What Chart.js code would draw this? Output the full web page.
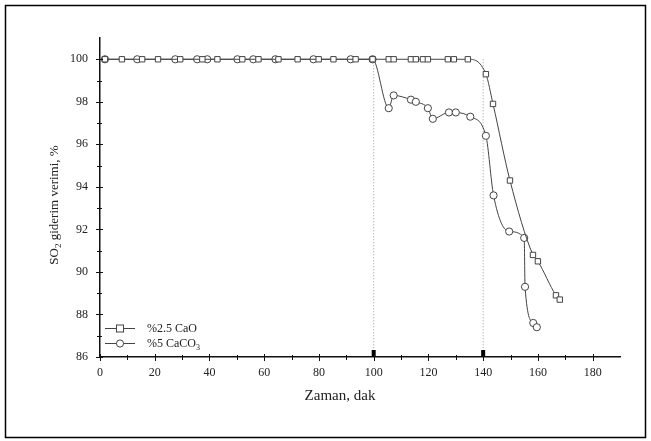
<!DOCTYPE html>
<html>
<head>
<meta charset="utf-8">
<script src="https://cdn.jsdelivr.net/npm/chart.js@4/dist/chart.umd.min.js"></script>
<style>
  html, body { margin: 0; padding: 0; background: #fff; }
  #wrap { position: relative; width: 651px; height: 441px; }
</style>
</head>
<body>
<div id="wrap"><canvas id="c" width="651" height="441"></canvas></div>
<script>
// SO2 removal efficiency (%) against time (min)
const caoTime  = [1.8, 8, 15.4, 21.2, 29.3, 37.4, 42.9, 52, 57.9, 65.2, 72.2, 79.9, 85.3, 93.4, 99.6,
                  105.5, 107.3, 113.6, 115.4, 118, 119.8, 127.1, 129.3, 134.4,
                  141, 143.6, 149.8, 158.2, 160, 166.6, 168];
const caoValue = [100, 100, 100, 100, 100, 100, 100, 100, 100, 100, 100, 100, 100, 100, 100,
                  100, 100, 100, 100, 100, 100, 100, 100, 100,
                  99.3, 97.9, 94.3, 90.8, 90.5, 88.9, 88.7];

const caco3Time  = [1.8, 13.6, 27.5, 35.5, 39.2, 50.2, 56, 64.1, 78, 91.6, 99.6,
                    105.5, 107.3, 113.6, 115.4, 119.8, 121.6, 127.5, 130, 135.3,
                    141, 143.8, 149.5, 155, 155.3, 158.3, 159.6];
const caco3Value = [100, 100, 100, 100, 100, 100, 100, 100, 100, 100, 100,
                    97.7, 98.3, 98.1, 98.0, 97.7, 97.2, 97.5, 97.5, 97.3,
                    96.4, 93.6, 91.9, 91.6, 89.3, 87.6, 87.4];

const xTicks = [0, 20, 40, 60, 80, 100, 120, 140, 160, 180];
const yTicks = [86, 88, 90, 92, 94, 96, 98, 100];
const markerTimes = [100, 140];
const seriesLabels = ['%2.5 CaO', '%5 CaCO3'];
const xTitle = 'Zaman, dak';
const yTitle = ['SO', '2', ' giderim verimi, %'];

const SERIF = '"Liberation Serif", "Times New Roman", serif';
const INK = '#222';
const LINE = '#444';

function pts(t, v) { return t.map((x, i) => ({ x, y: v[i] })); }

const datasets = [
  {
    label: seriesLabels[0], data: pts(caoTime, caoValue),
    borderColor: LINE, borderWidth: 1, pointStyle: 'rect', pointRadius: 3.8,
    pointBorderColor: LINE, pointBorderWidth: 1, pointBackgroundColor: '#fff',
    cubicInterpolationMode: 'monotone'
  },
  {
    label: seriesLabels[1], data: pts(caco3Time, caco3Value),
    borderColor: LINE, borderWidth: 1, pointStyle: 'circle', pointRadius: 3.6,
    pointBorderColor: LINE, pointBorderWidth: 1, pointBackgroundColor: '#fff',
    cubicInterpolationMode: 'monotone'
  }
];
// dotted drop lines at the reaction change times
markerTimes.forEach(t => {
  datasets.push({
    label: 't' + t,
    data: [{ x: t, y: yTicks[yTicks.length - 1] }, { x: t, y: yTicks[0] }],
    borderColor: '#999', borderWidth: 1, borderDash: [1, 2],
    pointRadius: 0,
    clip: false
  });
});

const decor = {
  id: 'decor',
  beforeDraw(chart) {
    const ctx = chart.ctx;
    ctx.save();
    ctx.fillStyle = '#fff';
    ctx.fillRect(0, 0, chart.width, chart.height);
    ctx.strokeStyle = '#000';
    ctx.lineWidth = 1.5;
    ctx.strokeRect(5.5, 5.5, 640, 432);
    ctx.restore();
  },
  afterDraw(chart) {
    const ctx = chart.ctx;
    const xs = chart.scales.x, ys = chart.scales.y;
    const area = chart.chartArea;
    ctx.save();
    // small filled flags on the time axis at the change times
    ctx.fillStyle = '#000';
    markerTimes.forEach(t => {
      const px = xs.getPixelForValue(t);
      ctx.fillRect(px - 2, area.bottom - 7, 4, 7);
    });

    ctx.strokeStyle = '#111';
    ctx.lineWidth = 1;
    // x ticks: majors and minor midpoints
    for (let i = 0; i < xTicks.length; i++) {
      const px = Math.round(xs.getPixelForValue(xTicks[i])) + 0.5;
      ctx.beginPath(); ctx.moveTo(px, area.bottom - 3); ctx.lineTo(px, area.bottom + 4); ctx.stroke();
      const mid = xTicks[i] + (xTicks[1] - xTicks[0]) / 2;
      if (mid < xs.max) {
        const pm = Math.round(xs.getPixelForValue(mid)) + 0.5;
        ctx.beginPath(); ctx.moveTo(pm, area.bottom - 2); ctx.lineTo(pm, area.bottom + 3); ctx.stroke();
      }
    }
    // y ticks
    for (let i = 0; i < yTicks.length; i++) {
      const py = Math.round(ys.getPixelForValue(yTicks[i])) + 0.5;
      ctx.beginPath(); ctx.moveTo(area.left - 4, py); ctx.lineTo(area.left + 3, py); ctx.stroke();
      const mid = yTicks[i] + (yTicks[1] - yTicks[0]) / 2;
      if (mid < ys.max) {
        const pm = Math.round(ys.getPixelForValue(mid)) + 0.5;
        ctx.beginPath(); ctx.moveTo(area.left - 3, pm); ctx.lineTo(area.left + 2, pm); ctx.stroke();
      }
    }

    ctx.fillStyle = INK;
    // x axis title
    ctx.font = '15px ' + SERIF;
    ctx.textAlign = 'center';
    ctx.textBaseline = 'middle';
    ctx.fillText(xTitle, 340, 396);

    // y axis title with subscript
    ctx.save();
    ctx.translate(55, 205);
    ctx.rotate(-Math.PI / 2);
    const big = '13px ' + SERIF, small = '9px ' + SERIF;
    ctx.font = big; const w0 = ctx.measureText(yTitle[0]).width;
    ctx.font = small; const w1 = ctx.measureText(yTitle[1]).width;
    ctx.font = big; const w2 = ctx.measureText(yTitle[2]).width;
    let x0 = -(w0 + w1 + w2) / 2;
    ctx.textAlign = 'left';
    ctx.textBaseline = 'middle';
    ctx.font = big; ctx.fillText(yTitle[0], x0, 0);
    ctx.font = small; ctx.fillText(yTitle[1], x0 + w0, 4);
    ctx.font = big; ctx.fillText(yTitle[2], x0 + w0 + w1, 0);
    ctx.restore();

    // legend
    const rows = [
      { y: 328, style: 'rect', text: [seriesLabels[0]] },
      { y: 343, style: 'circle', text: [seriesLabels[1].slice(0, -1), seriesLabels[1].slice(-1)] }
    ];
    rows.forEach(r => {
      ctx.strokeStyle = LINE;
      ctx.lineWidth = 1;
      ctx.beginPath(); ctx.moveTo(105, r.y + 0.5); ctx.lineTo(135, r.y + 0.5); ctx.stroke();
      ctx.fillStyle = '#fff';
      if (r.style === 'rect') {
        ctx.fillRect(116.5, r.y - 3, 7, 7); ctx.strokeRect(116.5, r.y - 3, 7, 7);
      } else {
        ctx.beginPath(); ctx.arc(120, r.y + 0.5, 3.6, 0, Math.PI * 2); ctx.fill(); ctx.stroke();
      }
      ctx.fillStyle = INK;
      ctx.textAlign = 'left';
      ctx.textBaseline = 'middle';
      ctx.font = '12px ' + SERIF;
      ctx.fillText(r.text[0], 147, r.y + 1);
      if (r.text[1]) {
        const w = ctx.measureText(r.text[0]).width;
        ctx.font = '8px ' + SERIF;
        ctx.fillText(r.text[1], 147 + w, r.y + 5);
      }
    });
    ctx.restore();
  }
};

new Chart(document.getElementById('c'), {
  type: 'line',
  data: { datasets },
  plugins: [decor],
  options: {
    responsive: false,
    animation: false,
    events: [],
    layout: { autoPadding: false, padding: { top: 38, right: 31, left: 0, bottom: 0 } },
    plugins: { legend: { display: false }, tooltip: { enabled: false } },
    scales: {
      x: {
        type: 'linear', min: 0, max: 190,
        afterFit: s => { s.height = 84; },
        afterBuildTicks: s => { s.ticks = xTicks.map(v => ({ value: v })); },
        grid: { display: false, drawTicks: false },
        border: { display: true, color: '#111', width: 1.5 },
        ticks: { padding: 9, color: INK, font: { family: SERIF, size: 12 }, maxRotation: 0 }
      },
      y: {
        type: 'linear', min: 86, max: 101,
        afterFit: s => { s.width = 100; },
        afterBuildTicks: s => { s.ticks = yTicks.map(v => ({ value: v })); },
        grid: { display: false, drawTicks: false },
        border: { display: true, color: '#111', width: 1.5 },
        ticks: { padding: 12, color: INK, font: { family: SERIF, size: 12 } }
      }
    }
  }
});
</script>
</body>
</html>
